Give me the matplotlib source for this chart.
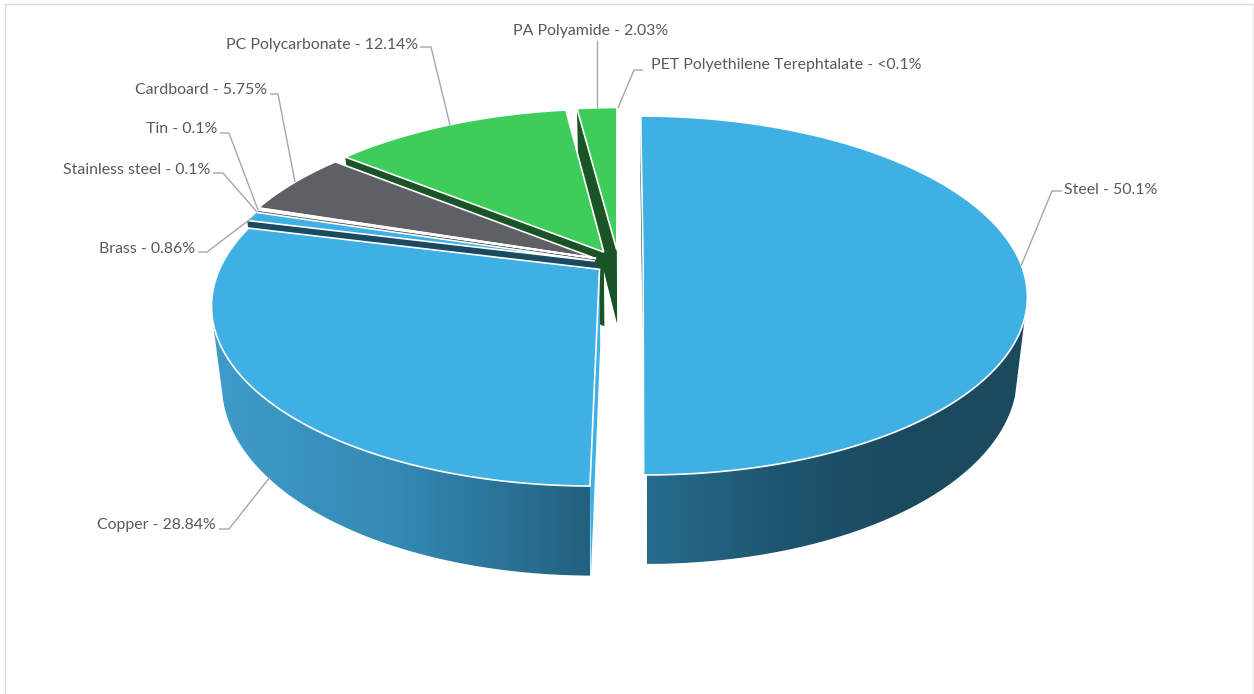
import numpy as np
from matplotlib import pyplot as plt
from matplotlib.colors import LinearSegmentedColormap
from matplotlib.patches import Polygon

plt.rcParams["font.family"] = ["Lato", "DejaVu Sans"]

categories = ["Steel", "Copper", "Brass", "Stainless steel", "Tin", "Cardboard",
              "PC Polycarbonate", "PA Polyamide", "PET Polyethilene Terephtalate"]
values = [50.1, 28.84, 0.86, 0.1, 0.1, 5.75, 12.14, 2.03, 0.08]
value_labels = ["50.1%", "28.84%", "0.86%", "0.1%", "0.1%", "5.75%", "12.14%", "2.03%", "<0.1%"]

top_colors = ["#3EB0E4", "#3EB0E4", "#3EB0E4", "#8A8B90", "#5F6066", "#5F6066",
              "#3ECC5A", "#3ECC5A", "#FFFFFF"]
side_colors = ["#1A4A5F", "#3EB0E4", "#1A4A5F", "#4A4B50", "#3A3B40", "#3A3B40",
               "#1A5426", "#1A5426", "#FFFFFF"]

# how far each slice is pulled out, in plane units
explode_u = [0.04, -0.075, -0.088, -0.085, -0.085, -0.09, -0.065, -0.03, -0.02]
explode_v = [0.0, 0.042, -0.006, -0.02, -0.02, -0.023, -0.058, -0.07, -0.07]

# label anchors and leader lines, in pixels
label_pos = [(1064, 189.5, "left"), (216, 525, "right"), (195, 249, "right"),
             (210, 170, "right"), (217, 129, "right"), (267, 90, "right"),
             (418, 45, "right"), (668, 31, "right"), (651, 65, "left")]
leaders = [[(1062, 191), (1052, 191), (1021, 266)],
           [(219, 529), (229, 529), (270, 477)],
           [(198, 252), (207, 252), (253, 217)],
           [(213, 173), (223, 173), (257, 212)],
           [(220, 133), (229, 133), (258, 210)],
           [(270, 94), (278, 94), (295, 182)],
           [(420, 47), (431, 47), (450, 125)],
           [(597, 40), (597, 108)],
           [(643, 70), (634, 70), (618, 108)]]

# perspective set up
cx, cy = 628, 262
rx, ry = 377, 173.2
k = 0.1866
depth_mid, depth_front = 75, 14
floor_x = 0.975
wall_from_v = 0.3


def project(u, v):
    s = 1 / (1 - k * v)
    return cx + rx * u * s, cy + ry * v * s


def floor(u, v):
    x, y = project(u, v)
    return cx + floor_x * (x - cx), y + depth_mid + depth_front * v


def rim(a0, a1, du, dv):
    t = np.radians(np.linspace(a0, a1, max(int(abs(a1 - a0) * 2), 2)))
    return np.sin(t) + du, -np.cos(t) + dv


fig = plt.figure(figsize=(12.54, 6.94), dpi=100)
ax = fig.add_axes([0, 0, 1, 1])
ax.set_xlim(0, 1254)
ax.set_ylim(694, 0)
ax.axis("off")

# chart frame
ax.plot([4.5, 4.5, 1253], [694, 3.5, 3.5], color="#D9D9D9", lw=1, zorder=1)
ax.plot([1253, 1253], [3.5, 694], color="#EBEBEB", lw=1, zorder=1)

edges = np.cumsum([0] + values) / np.sum(values) * 360

side_maps = {
    0: (LinearSegmentedColormap.from_list("steel", ["#266C8E", "#1E5670", "#1B4A5F", "#1B4A5F"]), 647, 1030),
    1: (LinearSegmentedColormap.from_list("copper", ["#3F9CCA", "#3389B3", "#23607F"]), 213, 590),
}

# back slices first, front slices last
order = [8, 7, 6, 5, 4, 3, 2, 1, 0]
z = 2
for i in order:
    a0, a1 = edges[i], edges[i + 1]
    du, dv = explode_u[i], explode_v[i]
    ru, rv = rim(a0, a1, du, dv)

    # outer wall, only the front part of the rim shows
    if i in side_maps:
        keep = rv >= wall_from_v
        tx, ty = project(ru[keep], rv[keep])
        bx, by = floor(ru[keep], rv[keep])
        wall = np.column_stack([np.r_[tx, bx[::-1]], np.r_[ty, by[::-1]]])
        cmap, x0, x1 = side_maps[i]
        poly = Polygon(wall, closed=True, fc="none", ec="none", zorder=z)
        ax.add_patch(poly)
        img = ax.imshow(np.linspace(0, 1, 256).reshape(1, -1), extent=[x0, x1, 694, 0],
                        cmap=cmap, aspect="auto", zorder=z)
        img.set_clip_path(poly)
        z += 1

    # cut face at the start edge
    fu = np.array([ru[0], du])
    fv = np.array([rv[0], dv])
    tx, ty = project(fu, fv)
    bx, by = floor(fu, fv)
    face = np.column_stack([np.r_[tx, bx[::-1]], np.r_[ty, by[::-1]]])
    ax.add_patch(Polygon(face, closed=True, fc=side_colors[i], ec="none", zorder=z))
    z += 1

    # top surface
    tx, ty = project(np.r_[du, ru], np.r_[dv, rv])
    ax.add_patch(Polygon(np.column_stack([tx, ty]), closed=True, fc=top_colors[i],
                         ec="white", lw=1.2, joinstyle="miter", zorder=z))
    z += 1

# leader lines and labels
for line in leaders:
    xs, ys = zip(*line)
    ax.plot(xs, ys, color="#A6A6A6", lw=1, zorder=z, solid_capstyle="butt")
for cat, lab, (x, y, ha) in zip(categories, value_labels, label_pos):
    ax.text(x, y, f"{cat} - {lab}", ha=ha, va="center", fontsize=11.4, color="#595959", zorder=z + 1)

fig.savefig("out.png", dpi=100)
